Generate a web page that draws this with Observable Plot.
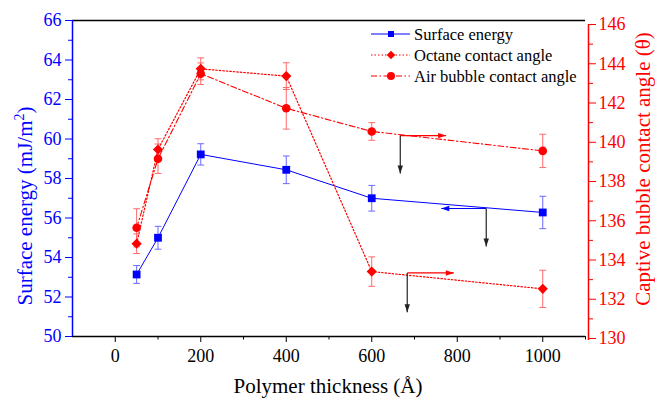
<!DOCTYPE html>
<html><head><meta charset="utf-8">
<script src="https://cdn.jsdelivr.net/npm/d3@7"></script>
<script src="https://cdn.jsdelivr.net/npm/@observablehq/plot@0.6"></script>
<style>body{margin:0;background:#fff}</style>
</head><body><div id="chart"></div>
<script>
// ---- data ----
const thickness = [50, 100, 200, 400, 600, 1000];
const surfaceEnergy = [53.14, 55.0, 59.22, 58.44, 57.0, 56.28];
const surfaceEnergyErr = [0.45, 0.58, 0.54, 0.7, 0.65, 0.82];
const octaneAngle = [134.83, 139.63, 143.74, 143.37, 133.41, 132.53];
const octaneErr = [0.5, 0.55, 0.56, 0.68, 0.75, 0.95];
const airBubbleAngle = [135.64, 139.16, 143.49, 141.73, 140.55, 139.56];
const airBubbleErr = [0.97, 0.75, 0.55, 1.06, 0.45, 0.85];

const xTicks = [0, 200, 400, 600, 800, 1000];
const xMinorTicks = [100, 300, 500, 700, 900, 1100];
const leftTicks = [50, 52, 54, 56, 58, 60, 62, 64, 66];
const leftMinorTicks = [51, 53, 55, 57, 59, 61, 63, 65];
const rightTicks = [130, 132, 134, 136, 138, 140, 142, 144, 146];
const rightMinorTicks = [131, 133, 135, 137, 139, 141, 143, 145];

const seriesNames = ["Surface energy", "Octane contact angle", "Air bubble contact angle"];

// annotation arrows: horizontal from x start to x end at y start, vertical from y start to y end
const arrowSeries = ["air", "surface", "octane"];
const arrowX0 = [666.7, 867.8, 683];
const arrowX1 = [774, 762.6, 792];
const arrowY0 = [140.34, 56.48, 133.34];
const arrowY1 = [138.41, 54.56, 131.34];
const arrowAxis = ["right", "left", "right"];

// ---- helpers ----
const BLUE = "#0000ff", RED = "#ff0000";
const BLUE_ERR = "#6a6aff", RED_ERR = "#ff6a6a";
// map a right-axis value (130–146) onto the left (50–66) y scale
const rToL = r => 50 + ((r - 130) * 19.625 - 2) / 19.75;
const lToR = v => 130 + ((v - 50) * 19.75 + 2) / 19.625;

const rows = thickness.map((t, i) => ({
  t,
  se: surfaceEnergy[i], seLo: surfaceEnergy[i] - surfaceEnergyErr[i], seHi: surfaceEnergy[i] + surfaceEnergyErr[i],
  oc: rToL(octaneAngle[i]), ocLo: rToL(octaneAngle[i] - octaneErr[i]), ocHi: rToL(octaneAngle[i] + octaneErr[i]),
  ab: rToL(airBubbleAngle[i]), abLo: rToL(airBubbleAngle[i] - airBubbleErr[i]), abHi: rToL(airBubbleAngle[i] + airBubbleErr[i])
}));

const arrows = arrowSeries.map((s, i) => {
  const conv = arrowAxis[i] === "right" ? rToL : (v => v);
  return {
    s, x0: arrowX0[i], x1: arrowX1[i], y0: conv(arrowY0[i]), y1: conv(arrowY1[i]),
    color: s === "surface" ? BLUE : RED,
    rot: arrowX1[i] > arrowX0[i] ? 90 : 270
  };
});

const capShape = {draw(ctx, l) { ctx.moveTo(0, 0); ctx.lineTo(0, -l); }};
const headShape = {draw(ctx, l) { ctx.moveTo(0, -l); ctx.lineTo(-2.7, 0); ctx.lineTo(2.7, 0); ctx.closePath(); }};

const OCT_DASH = "1.5,2";
const AIR_DASH = "6,2.5,1.5,2.5";

function errMarks(lo, hi, color) {
  return [
    Plot.link(rows, {x1: "t", x2: "t", y1: lo, y2: hi, stroke: color, strokeWidth: 1}),
    Plot.vector(rows, {x: "t", y: lo, rotate: 90, length: 6, anchor: "middle", shape: capShape, stroke: color, strokeWidth: 1}),
    Plot.vector(rows, {x: "t", y: hi, rotate: 90, length: 6, anchor: "middle", shape: capShape, stroke: color, strokeWidth: 1})
  ];
}

const plot = Plot.plot({
  width: 655, height: 399,
  marginLeft: 72, marginRight: 70, marginTop: 20, marginBottom: 63,
  x: {domain: [-100, 1100]},
  y: {domain: [50, 66]},
  style: {fontFamily: "'Liberation Serif', 'Times New Roman', serif", fontSize: "18px", background: "white", overflow: "visible"},
  marks: [
    Plot.axisX(xMinorTicks, {tickSize: 3.5, tickFormat: () => "", label: null, stroke: "black"}),
    Plot.axisX(xTicks, {tickSize: 6, tickPadding: 7, tickFormat: d => String(d), label: null, stroke: "black", fill: "black", fontSize: 18}),
    Plot.axisY(leftMinorTicks, {tickSize: 4, tickFormat: () => "", label: null, stroke: BLUE}),
    Plot.axisY(leftTicks, {tickSize: 7, tickPadding: 4, tickFormat: d => String(d), label: null, stroke: BLUE, fill: BLUE, fontSize: 18}),
    Plot.axisY(rightMinorTicks.map(rToL), {anchor: "right", dx: 3, tickSize: 4, tickFormat: () => "", label: null, stroke: RED}),
    Plot.axisY(rightTicks.map(rToL), {anchor: "right", dx: 3, tickSize: 7, tickPadding: 3, tickFormat: d => String(Math.round(lToR(d))), label: null, stroke: RED, fill: RED, fontSize: 18}),
    // frame
    Plot.ruleY([66], {stroke: "black", strokeWidth: 1.5}),
    Plot.ruleY([50], {stroke: "black", strokeWidth: 1.5}),
    Plot.ruleX([-100], {stroke: BLUE, strokeWidth: 1.5}),
    Plot.ruleX([1100], {y1: rToL(130) - 0.1, y2: rToL(146), dx: 3, stroke: RED, strokeWidth: 1.5}),
    // error bars
    ...errMarks("seLo", "seHi", BLUE_ERR),
    ...errMarks("ocLo", "ocHi", RED_ERR),
    ...errMarks("abLo", "abHi", RED_ERR),
    // lines
    Plot.line(rows, {x: "t", y: "se", stroke: BLUE, strokeWidth: 1}),
    Plot.line(rows, {x: "t", y: "oc", stroke: RED, strokeWidth: 1.2, strokeDasharray: OCT_DASH}),
    Plot.line(rows, {x: "t", y: "ab", stroke: RED, strokeWidth: 1.1, strokeDasharray: AIR_DASH}),
    // markers
    Plot.dot(rows, {x: "t", y: "se", symbol: "square", r: 4.4, fill: BLUE}),
    Plot.dot(rows, {x: "t", y: "oc", symbol: "diamond2", r: 4.6, fill: RED}),
    Plot.dot(rows, {x: "t", y: "ab", symbol: "circle", r: 4.3, fill: RED}),
    // annotation arrows
    Plot.link(arrows, {x1: "x0", x2: "x1", y1: "y0", y2: "y0", stroke: "color", strokeWidth: 1.2}),
    Plot.vector(arrows, {x: "x1", y: "y0", rotate: "rot", length: 8, anchor: "end", shape: headShape, fill: "color", stroke: "none"}),
    Plot.link(arrows, {x1: "x0", x2: "x0", y1: "y0", y2: "y1", stroke: "#222", strokeWidth: 1.2}),
    Plot.vector(arrows, {x: "x0", y: "y1", rotate: 180, length: 8, anchor: "end", shape: headShape, fill: "#222", stroke: "none"})
  ]
});

document.getElementById("chart").appendChild(plot);

// ---- titles and legend ----
const svg = d3.select(plot);
const FONT = "'Liberation Serif', 'Times New Roman', serif";

svg.append("text").attr("x", 328).attr("y", 393).attr("text-anchor", "middle")
  .attr("font-family", FONT).attr("font-size", 21).attr("fill", "black")
  .text("Polymer thickness (\u00C5)");

const lt = svg.append("text").attr("transform", "translate(32,206) rotate(-90)").attr("text-anchor", "middle")
  .attr("font-family", FONT).attr("font-size", 21).attr("fill", BLUE);
lt.append("tspan").text("Surface energy (mJ/m");
lt.append("tspan").attr("font-size", 14).attr("dy", "-0.55em").text("2");
lt.append("tspan").attr("dy", "0.38em").text(")");

svg.append("text").attr("transform", "translate(650,169) rotate(-90)").attr("text-anchor", "middle")
  .attr("font-family", FONT).attr("font-size", 21).attr("fill", RED)
  .text("Captive bubble contact angle (\u03B8)");

const legendStyles = [
  {color: BLUE, dash: null, symbol: d3.symbolSquare, size: Math.PI * 3.4 * 3.4},
  {color: RED, dash: OCT_DASH, symbol: d3.symbolDiamond2, size: Math.PI * 3.9 * 3.9},
  {color: RED, dash: AIR_DASH, symbol: d3.symbolCircle, size: Math.PI * 4 * 4}
];
const legendY = [34, 55, 76];
const lg = svg.append("g");
seriesNames.forEach((name, i) => {
  const st = legendStyles[i], y = legendY[i];
  const ln = lg.append("line").attr("x1", 371).attr("x2", 410).attr("y1", y).attr("y2", y)
    .attr("stroke", st.color).attr("stroke-width", 1.1);
  if (st.dash) ln.attr("stroke-dasharray", st.dash);
  lg.append("path").attr("d", d3.symbol(st.symbol, st.size)()).attr("transform", `translate(391,${y})`).attr("fill", st.color);
  lg.append("text").attr("x", 414).attr("y", y + 6).attr("text-anchor", "start")
    .attr("font-family", FONT).attr("font-size", 16.5).attr("fill", "black").text(name);
});
</script>
</body></html>
